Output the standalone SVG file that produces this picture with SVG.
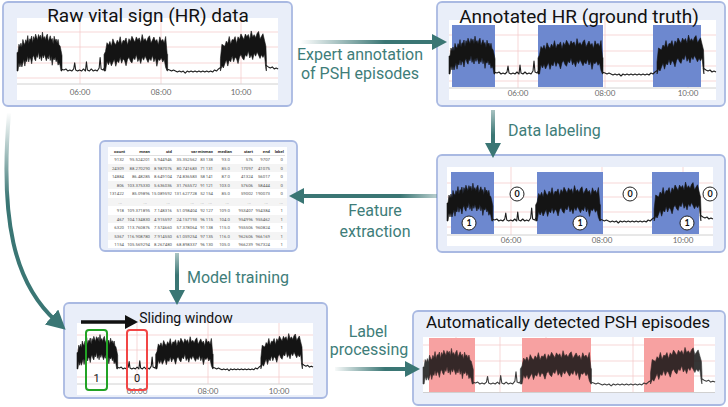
<svg xmlns="http://www.w3.org/2000/svg" width="728" height="407" viewBox="0 0 728 407">
<defs>
<style>
.panel{fill:#e9eef9;stroke:#a9b9e2;stroke-width:1.8}
.plot{fill:#fff}
.grid{stroke:#f4c6c6;stroke-width:0.7;fill:none}
.axis{stroke:#d0d0d0;stroke-width:1}
.tick{font-family:Lato,"DejaVu Sans",sans-serif;font-size:8px;fill:#6b6b6b;text-anchor:middle}
.title{font-family:Roboto,"Liberation Sans",sans-serif;fill:#111;text-anchor:middle}
.lbl{font-family:Roboto,"Liberation Sans",sans-serif;font-size:16px;fill:#3e7d79}
.mid{text-anchor:middle}
.hr{fill:#141414;stroke:#141414;stroke-width:0.6;stroke-linejoin:round;vector-effect:non-scaling-stroke}
.hrl{fill:none;stroke:#1e1e1e;stroke-width:1.1;vector-effect:non-scaling-stroke;stroke-linejoin:round}
.blue{fill:#6d88cf}
.pink{fill:#f7a1a1}
.tbl{font-family:Roboto,"Liberation Sans",sans-serif;font-size:4.3px;fill:#555;text-anchor:end}
.th{font-weight:bold;fill:#333}
.circ{fill:#fff;stroke:#222;stroke-width:1}
.cnum{font-family:Lato,"DejaVu Sans",sans-serif;font-size:9px;font-weight:bold;text-anchor:middle;fill:#111}
.conn{fill:none;stroke-width:4}
</style>
<linearGradient id="gE" gradientUnits="userSpaceOnUse" x1="300" y1="0" x2="385" y2="0"><stop offset="0" stop-color="#3a7674" stop-opacity="0"/><stop offset="1" stop-color="#3a7674"/></linearGradient>
<linearGradient id="gD" gradientUnits="userSpaceOnUse" x1="0" y1="108" x2="0" y2="135"><stop offset="0" stop-color="#3a7674" stop-opacity="0.4"/><stop offset="1" stop-color="#3a7674"/></linearGradient>
<linearGradient id="gF" gradientUnits="userSpaceOnUse" x1="440" y1="0" x2="400" y2="0"><stop offset="0" stop-color="#3a7674" stop-opacity="0.3"/><stop offset="1" stop-color="#3a7674"/></linearGradient>
<linearGradient id="gM" gradientUnits="userSpaceOnUse" x1="0" y1="252" x2="0" y2="275"><stop offset="0" stop-color="#3a7674" stop-opacity="0.4"/><stop offset="1" stop-color="#3a7674"/></linearGradient>
<linearGradient id="gL" gradientUnits="userSpaceOnUse" x1="333" y1="0" x2="385" y2="0"><stop offset="0" stop-color="#3a7674" stop-opacity="0"/><stop offset="1" stop-color="#3a7674"/></linearGradient>
<linearGradient id="gC" gradientUnits="userSpaceOnUse" x1="0" y1="112" x2="0" y2="200"><stop offset="0" stop-color="#3a7674" stop-opacity="0"/><stop offset="1" stop-color="#3a7674"/></linearGradient>
<marker id="ahT" markerUnits="userSpaceOnUse" markerWidth="16" markerHeight="16" refX="5" refY="8" orient="auto"><path d="M0,0 L15,8 L0,16 z" fill="#3a7674"/></marker>
<marker id="ahT2" markerUnits="userSpaceOnUse" markerWidth="20" markerHeight="20" refX="6" refY="10" orient="auto"><path d="M0,0 L19,10 L0,20 z" fill="#3a7674"/></marker>
<marker id="ahK" markerUnits="userSpaceOnUse" markerWidth="14" markerHeight="14" refX="2" refY="7" orient="auto"><path d="M0,0 L13,7 L0,14 z" fill="#111"/></marker>
<g id="trace">
<polygon class="hr" points="0,26 1,26 2,18 3,21 4,17 5,21 6,13.4 7,16.8 8,18.2 9,13.6 10,16 11,9.6 12,17.2 13,12.8 14,13.4 15,10 16,16.8 17,10.6 18,13.4 19,8.2 20,11 21,13.8 22,8.6 23,11.4 24,9.2 25,14 26,6.2 27,12.4 28,10.6 29,13.8 30,10 31,8.2 32,15.4 33,12.6 34,9.8 35,14 36,12.4 37,17.8 38,10.2 39,14.6 40,13 41,16.7 42,13.3 43,19 44,19.5 45,24 46,29 46,44 45,44 44,38.5 43,36 42,38.3 41,32.7 40,35 39,30.6 38,33.2 37,31.8 36,38.4 35,30 34,33.8 33,27.6 32,32.4 31,30.2 30,34 29,30.8 28,27.6 27,31.4 26,28.2 25,34 24,29.2 23,32.4 22,25.6 21,30.8 20,29 19,34.2 18,32.4 17,28.6 16,30.8 15,37 14,32.4 13,30.8 12,35.2 11,29.6 10,35 9,33.6 8,39.2 7,32.8 6,36.4 5,40 4,36 3,40 2,36 1,44 0,44"/>
<polygon class="hr" points="89,28 90.5,25 92,16.5 93.5,19 95,15.3 96.5,20 98,12.8 99.5,16.5 101,18.4 102.5,14.1 104,16.9 105.5,10.7 107,18.4 108.5,14.2 110,15 111.5,11.9 113,18.7 114.5,12.6 116,15.4 117.5,10.3 119,13.1 120.5,16 122,10.9 123.5,13.8 125,11.8 126.5,16.7 128,8.6 129.5,14.5 131,12.5 132.5,15.6 134,11.7 135.5,9.8 137,16.9 138.5,13.9 140,11 141.5,15.2 143,13.4 144.5,18.6 146,10.8 147.5,15 149,13.3 150.5,16.8 152,10.5 153.5,27 154,28 154,44 153.5,44 152,40.5 150.5,32.8 149,35.3 147.5,31 146,33.8 144.5,32.6 143,39.4 141.5,31.2 140,35 138.5,28.9 137,33.9 135.5,31.8 134,35.7 132.5,32.6 131,29.5 129.5,33.5 128,30.6 126.5,36.7 125,31.8 123.5,34.8 122,27.9 120.5,33 119,31.1 117.5,36.3 116,34.4 114.5,30.6 113,32.7 111.5,38.9 110,34 108.5,32.2 107,36.4 105.5,30.7 104,35.9 102.5,34.1 101,39.4 99.5,32.5 98,35.8 96.5,39 95,34.3 93.5,38 92,34.5 90.5,44 89,44"/>
<polygon class="hr" points="208,32 209.5,18 211,19 212.5,20 214,15 215.5,17.2 217,10.5 218.5,18 220,13.5 221.5,14 223,10.6 224.5,17.2 226,10.8 227.5,13.4 229,8 230.5,10.7 232,13.4 233.5,8.1 235,10.8 236.5,8.5 238,13.3 239.5,5.1 241,10.9 242.5,8.7 244,11.6 245.5,7.5 247,5.6 248.5,12.8 250,10.2 251.5,7.8 253,14 254.5,20 255,33 255,44 254.5,42 253,28 251.5,30.8 250,28.2 248.5,31.8 247,28.6 245.5,25.5 244,29.6 242.5,26.7 241,32.9 239.5,28.1 238,31.3 236.5,24.5 235,29.8 233.5,28.1 232,33.4 230.5,31.7 229,28 227.5,30.4 226,36.8 224.5,32.2 223,30.6 221.5,35 220,29.5 218.5,35 217,33.5 215.5,39.2 214,33 212.5,37 211,41 209.5,39 208,44"/>
<polyline class="hrl" points="45,42 48,43 50,42 52,44 54,43 56,44 58,42 59,36 60,43 62,44 64,43 66,44 68,42 70,44 71,35 72,43 74,44 76,42 78,44 80,43 82,44 84,41 85,31 86,42 88,43 90,40"/>
<polyline class="hrl" points="153,42 156,43 158,44 160,43 162,44 164,45 166,44 168,45 170,44 172,46 174,44 176,45 178,44 180,45 182,44 184,45 186,44 188,45 190,44 192,45 194,44 196,45 198,44 200,45 202,43 204,44 206,42 209,40"/>
<polyline class="hrl" points="254,38 257,40 259,41 261,40 263,42 265,41 267,42"/>
</g>
</defs>

<rect width="728" height="407" fill="#fff"/>

<g id="raw-data">
<rect class="panel" x="3" y="2" width="289" height="104" rx="5"/>
<rect class="plot" x="17" y="18" width="261" height="82"/>
<path class="grid" d="M17,32H278M17,47H278M17,63H278M17,78H278M80,18V84M161,18V84M241,18V84"/>
<line class="axis" x1="17" y1="84" x2="278" y2="84"/>
<use href="#trace" transform="translate(17,25.7) scale(0.978,1.03)"/>
<text class="tick" x="80" y="95">06:00</text>
<text class="tick" x="161" y="95">08:00</text>
<text class="tick" x="241" y="95">10:00</text>
<text class="title" x="148" y="22" font-size="19">Raw vital sign (HR) data</text>
</g>

<g id="annotated-hr">
<rect class="panel" x="437" y="2" width="288" height="104" rx="5"/>
<rect class="plot" x="449" y="20" width="267" height="80"/>
<path class="grid" d="M449,35H716M449,51H716M449,66H716M449,81H716M518,20V88M605,20V88M688,20V88"/>
<line class="axis" x1="449" y1="88" x2="716" y2="88"/>
<rect class="blue" x="452" y="25" width="43" height="62"/>
<rect class="blue" x="538" y="25" width="65" height="62"/>
<rect class="blue" x="653" y="25" width="48" height="62"/>
<use href="#trace" transform="translate(449,30)"/>
<text class="tick" x="518" y="96">06:00</text>
<text class="tick" x="605" y="96">08:00</text>
<text class="tick" x="688" y="96">10:00</text>
<text class="title" x="579" y="23" font-size="19">Annotated HR (ground truth)</text>
</g>

<g id="feature-table">
<rect class="panel" x="100" y="141" width="197" height="110" rx="5"/>
<rect class="plot" x="108" y="147" width="179" height="101"/>
<g fill="#f4f4f4">
<rect x="108" y="164" width="179" height="8"/>
<rect x="108" y="181" width="179" height="8"/>
<rect x="108" y="198" width="179" height="8"/>
<rect x="108" y="215" width="179" height="8"/>
<rect x="108" y="232" width="179" height="8"/>
</g>
<line x1="110" y1="155.5" x2="285" y2="155.5" stroke="#ccc" stroke-width="0.6"/>
<text class="tbl th" y="153"><tspan x="125">count</tspan><tspan x="150">mean</tspan><tspan x="172">std</tspan><tspan x="197">var</tspan><tspan x="205">min</tspan><tspan x="213">max</tspan><tspan x="232">median</tspan><tspan x="253">start</tspan><tspan x="270">end</tspan><tspan x="284">label</tspan></text>
<text class="tbl" y="161"><tspan x="124">9132</tspan><tspan x="150">95.524201</tspan><tspan x="172">5.944946</tspan><tspan x="197">35.352562</tspan><tspan x="205">83</tspan><tspan x="213">138</tspan><tspan x="230">93.0</tspan><tspan x="253">576</tspan><tspan x="270">9707</tspan><tspan x="283">0</tspan></text>
<text class="tbl" y="169.5"><tspan x="124">24309</tspan><tspan x="150">88.270290</tspan><tspan x="172">8.987076</tspan><tspan x="197">80.741683</tspan><tspan x="205">71</tspan><tspan x="213">131</tspan><tspan x="230">85.0</tspan><tspan x="253">17097</tspan><tspan x="270">41075</tspan><tspan x="283">0</tspan></text>
<text class="tbl" y="178"><tspan x="124">14884</tspan><tspan x="150">86.48285</tspan><tspan x="172">8.649104</tspan><tspan x="197">74.836583</tspan><tspan x="205">58</tspan><tspan x="213">141</tspan><tspan x="230">87.0</tspan><tspan x="253">41324</tspan><tspan x="270">56017</tspan><tspan x="283">0</tspan></text>
<text class="tbl" y="186.5"><tspan x="124">806</tspan><tspan x="150">103.375330</tspan><tspan x="172">5.636036</tspan><tspan x="197">31.765572</tspan><tspan x="205">91</tspan><tspan x="213">121</tspan><tspan x="230">103.0</tspan><tspan x="253">57606</tspan><tspan x="270">58444</tspan><tspan x="283">0</tspan></text>
<text class="tbl" y="195"><tspan x="124">131422</tspan><tspan x="150">85.09896</tspan><tspan x="172">15.089592</tspan><tspan x="197">131.627728</tspan><tspan x="205">52</tspan><tspan x="213">154</tspan><tspan x="230">85.0</tspan><tspan x="253">59002</tspan><tspan x="270">190073</tspan><tspan x="283">0</tspan></text>
<text class="tbl" y="203.5"><tspan x="122">...</tspan><tspan x="147">...</tspan><tspan x="170">...</tspan><tspan x="194">...</tspan><tspan x="204">...</tspan><tspan x="212">...</tspan><tspan x="229">...</tspan><tspan x="251">...</tspan><tspan x="268">...</tspan><tspan x="283">...</tspan></text>
<text class="tbl" y="212"><tspan x="124">918</tspan><tspan x="150">109.371895</tspan><tspan x="172">7.148316</tspan><tspan x="197">51.098404</tspan><tspan x="205">92</tspan><tspan x="213">127</tspan><tspan x="230">109.0</tspan><tspan x="253">953407</tspan><tspan x="270">954384</tspan><tspan x="283">1</tspan></text>
<text class="tbl" y="220.5"><tspan x="124">467</tspan><tspan x="150">104.134830</tspan><tspan x="172">4.915597</tspan><tspan x="197">24.157193</tspan><tspan x="205">96</tspan><tspan x="213">115</tspan><tspan x="230">104.0</tspan><tspan x="253">954996</tspan><tspan x="270">955462</tspan><tspan x="283">1</tspan></text>
<text class="tbl" y="229"><tspan x="124">6320</tspan><tspan x="150">113.760876</tspan><tspan x="172">7.574660</tspan><tspan x="197">57.378064</tspan><tspan x="205">91</tspan><tspan x="213">138</tspan><tspan x="230">115.0</tspan><tspan x="253">955506</tspan><tspan x="270">960824</tspan><tspan x="283">1</tspan></text>
<text class="tbl" y="237.5"><tspan x="124">5367</tspan><tspan x="150">116.908780</tspan><tspan x="172">7.914550</tspan><tspan x="197">61.059254</tspan><tspan x="205">97</tspan><tspan x="213">135</tspan><tspan x="230">116.0</tspan><tspan x="253">962606</tspan><tspan x="270">966169</tspan><tspan x="283">1</tspan></text>
<text class="tbl" y="246"><tspan x="124">1154</tspan><tspan x="150">105.569294</tspan><tspan x="172">8.267480</tspan><tspan x="197">68.898337</tspan><tspan x="205">96</tspan><tspan x="213">130</tspan><tspan x="230">105.0</tspan><tspan x="253">966239</tspan><tspan x="270">967324</tspan><tspan x="283">1</tspan></text>
</g>

<g id="labeled-hr">
<rect class="panel" x="437" y="155" width="288" height="97" rx="5"/>
<rect class="plot" x="447" y="167" width="266" height="79"/>
<path class="grid" d="M447,183H713M447,197H713M447,212H713M447,227H713M511,167V235M602,167V235M683,167V235"/>
<line class="axis" x1="447" y1="235" x2="713" y2="235"/>
<rect class="blue" x="451" y="172" width="43" height="62"/>
<rect class="blue" x="537" y="172" width="66" height="62"/>
<rect class="blue" x="652" y="172" width="47" height="62"/>
<use href="#trace" transform="translate(447,177) scale(0.996,1)"/>
<text class="tick" x="511" y="243">06:00</text>
<text class="tick" x="602" y="243">08:00</text>
<text class="tick" x="683" y="243">10:00</text>
<circle class="circ" cx="469" cy="223" r="7"/><text class="cnum" x="469" y="226.2">1</text>
<circle class="circ" cx="580" cy="223" r="7"/><text class="cnum" x="580" y="226.2">1</text>
<circle class="circ" cx="687" cy="223" r="7"/><text class="cnum" x="687" y="226.2">1</text>
<circle class="circ" cx="517" cy="194" r="7"/><text class="cnum" x="517" y="197.2">0</text>
<circle class="circ" cx="630" cy="194" r="7"/><text class="cnum" x="630" y="197.2">0</text>
<circle class="circ" cx="710" cy="194" r="7"/><text class="cnum" x="710" y="197.2">0</text>
</g>

<g id="sliding-window">
<rect class="panel" x="64" y="303" width="263" height="95" rx="5"/>
<rect class="plot" x="77" y="323" width="236" height="72"/>
<path class="grid" d="M77,335H313M77,350H313M77,363H313M77,377H313M137,323V384M208,323V384M279,323V384"/>
<line class="axis" x1="77" y1="384" x2="313" y2="384"/>
<use href="#trace" transform="translate(77,328.9) scale(0.884,0.909)"/>
<text class="tick" x="137" y="393.5">06:00</text>
<text class="tick" x="208" y="393.5">08:00</text>
<text class="tick" x="279" y="393.5">10:00</text>
<path d="M81,322H127" stroke="#111" stroke-width="3.5" fill="none" marker-end="url(#ahK)"/>
<text class="title" x="186" y="323" font-size="14">Sliding window</text>
<rect x="86" y="330" width="21" height="60" rx="3" fill="none" stroke="#22a325" stroke-width="2"/>
<rect x="127" y="330" width="20" height="60" rx="3" fill="none" stroke="#f24646" stroke-width="2"/>
<text class="title" x="96.5" y="382" font-size="11">1</text>
<text class="title" x="137" y="382" font-size="11">0</text>
</g>

<g id="detected-psh">
<rect class="panel" x="413" y="311" width="312" height="94" rx="5"/>
<rect class="plot" x="423" y="337" width="292" height="56"/>
<path class="grid" d="M423,345H715M423,361H715M423,376H715M456,337V392M500,337V392M546,337V392M633,337V392"/>
<rect class="pink" x="429" y="338" width="46" height="54"/>
<rect class="pink" x="522" y="338" width="69" height="54"/>
<rect class="pink" x="644" y="338" width="50" height="54"/>
<line class="axis" x1="423" y1="392.5" x2="715" y2="392.5" stroke="#aaa"/>
<use href="#trace" transform="translate(423,342.6) scale(1.094,0.94)" opacity="0.85"/>
<text class="title" x="568" y="328" font-size="17">Automatically detected PSH episodes</text>
</g>

<g id="connectors">
<path class="conn" d="M300,42H437" stroke="url(#gE)" marker-end="url(#ahT)"/>
<path class="conn" d="M493,110V148" stroke="url(#gD)" marker-end="url(#ahT)"/>
<path class="conn" d="M437,196H299" stroke="url(#gF)" marker-end="url(#ahT)"/>
<path class="conn" d="M177,253V295" stroke="url(#gM)" marker-end="url(#ahT)"/>
<path class="conn" d="M335,369H410" stroke="url(#gL)" marker-end="url(#ahT)"/>
<path class="conn" d="M9,113C0,220 14,283 56,321" stroke="url(#gC)" marker-end="url(#ahT2)"/>
<text class="lbl mid" x="360" y="60" font-size="15.5">Expert annotation</text>
<text class="lbl mid" x="360" y="79" font-size="15.5">of PSH episodes</text>
<text class="lbl" x="508" y="136" font-size="15">Data labeling</text>
<text class="lbl mid" x="375" y="216">Feature</text>
<text class="lbl mid" x="375" y="237">extraction</text>
<text class="lbl" x="187" y="283">Model training</text>
<text class="lbl mid" x="368" y="337">Label</text>
<text class="lbl mid" x="369" y="355">processing</text>
</g>
</svg>
